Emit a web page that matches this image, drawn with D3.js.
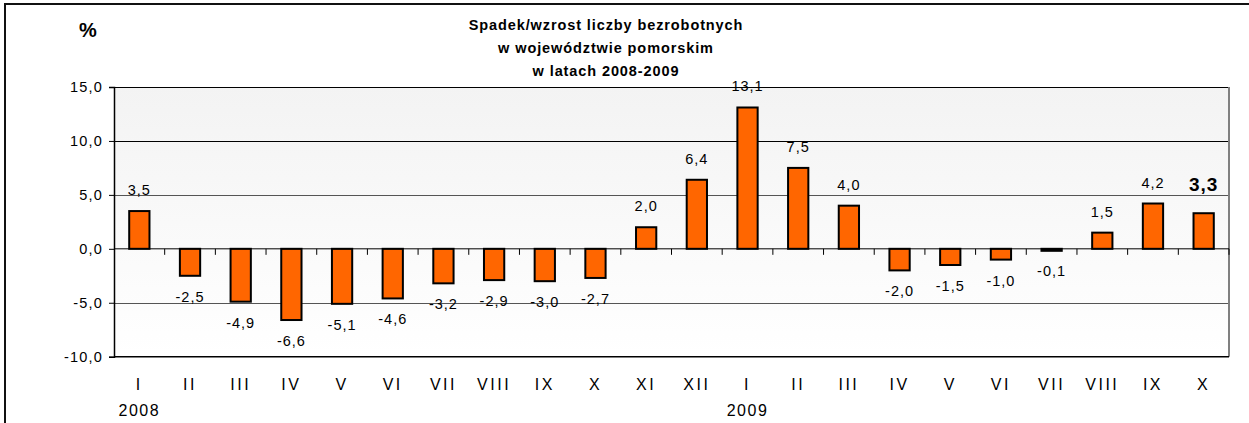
<!DOCTYPE html>
<html>
<head>
<meta charset="utf-8">
<script src="https://cdn.jsdelivr.net/npm/d3@7"></script>
<style>
  body { margin: 0; background: #fff; }
  svg text { font-family: "Liberation Sans", Arial, sans-serif; }
</style>
</head>
<body>
<div id="chart"></div>
<script>
// dane
const months = ['I','II','III','IV','V','VI','VII','VIII','IX','X','XI','XII',
                'I','II','III','IV','V','VI','VII','VIII','IX','X'];
const years = ['2008','','','','','','','','','','','',
               '2009','','','','','','','','',''];
const values = [3.5,-2.5,-4.9,-6.6,-5.1,-4.6,-3.2,-2.9,-3.0,-2.7,2.0,6.4,
                13.1,7.5,4.0,-2.0,-1.5,-1.0,-0.1,1.5,4.2,3.3];
const yTicks = [-10,-5,0,5,10,15];
const titleLines = ['Spadek/wzrost liczby bezrobotnych','w województwie pomorskim','w latach 2008-2009'];

const width = 1249, height = 423;
const margin = {left: 114, right: 20, top: 87, bottom: 67};

const svg = d3.select('#chart').append('svg')
  .attr('width', width)
  .attr('height', height);

// ramka zewnętrzna
svg.append('rect')
  .attr('x', 5).attr('y', 4)
  .attr('width', width + 10).attr('height', height + 10)
  .attr('fill', 'none').attr('stroke', '#111').attr('stroke-width', 2);

const x = d3.scaleBand()
  .domain(d3.range(values.length))
  .range([margin.left, width - margin.right])
  .paddingInner(0).paddingOuter(0);

const y = d3.scaleLinear()
  .domain([-10, 15])
  .range([height - margin.bottom + 0.7, margin.top]);

// tło z gradientem
const grad = svg.append('defs').append('linearGradient')
  .attr('id', 'bg').attr('x1', 0).attr('y1', 0).attr('x2', 0).attr('y2', 1);
grad.append('stop').attr('offset', '0%').attr('stop-color', '#f3f3f3');
grad.append('stop').attr('offset', '100%').attr('stop-color', '#ffffff');

svg.append('rect')
  .attr('x', margin.left).attr('y', y(15))
  .attr('width', x.range()[1] - margin.left)
  .attr('height', y(-10) - y(15))
  .attr('fill', 'url(#bg)');

// linie siatki
svg.append('g').selectAll('line')
  .data(yTicks.filter(d => d !== 0 && d !== -10))
  .enter().append('line')
  .attr('x1', margin.left).attr('x2', x.range()[1])
  .attr('y1', d => Math.round(y(d)) + 0.5).attr('y2', d => Math.round(y(d)) + 0.5)
  .attr('stroke', d => d >= 10 ? '#000' : '#555')
  .attr('stroke-width', 1);

// ramka wykresu
svg.append('line')
  .attr('x1', x.range()[1]).attr('x2', x.range()[1])
  .attr('y1', y(15)).attr('y2', y(-10))
  .attr('stroke', '#808080').attr('stroke-width', 2);
svg.append('line')
  .attr('x1', margin.left).attr('x2', x.range()[1])
  .attr('y1', y(-10)).attr('y2', y(-10))
  .attr('stroke', '#000').attr('stroke-width', 1.5);

// oś Y
const yAxis = svg.append('g')
  .attr('transform', `translate(${margin.left},0)`)
  .call(d3.axisLeft(y).tickValues(yTicks).tickSize(5).tickPadding(6)
    .tickFormat(d => d3.format('.1f')(d).replace('.', ',').replace('−', '-')));
yAxis.select('.domain').attr('stroke', '#000').attr('stroke-width', 1.5);
yAxis.selectAll('.tick line').attr('stroke', '#000');
yAxis.selectAll('text')
  .attr('font-size', 14.5).attr('fill', '#000')
  .style('letter-spacing', '1.2px')
  .attr('font-family', '"Liberation Sans", Arial, sans-serif');

// słupki
svg.append('g').selectAll('rect')
  .data(values)
  .enter().append('rect')
  .attr('x', (d, i) => x(i) + x.bandwidth() * 0.3)
  .attr('width', x.bandwidth() * 0.4)
  .attr('y', d => y(Math.max(0, d)))
  .attr('height', d => Math.max(2, Math.abs(y(d) - y(0))))
  .attr('fill', '#ff6600')
  .attr('stroke', '#000')
  .attr('stroke-width', 2);

// oś X na zerze
const xAxis = svg.append('g')
  .attr('transform', `translate(0,${y(0)})`);
xAxis.append('line')
  .attr('x1', margin.left).attr('x2', x.range()[1])
  .attr('stroke', '#000').attr('stroke-width', 1);
xAxis.selectAll('.tk')
  .data(d3.range(1, values.length + 1))
  .enter().append('line')
  .attr('x1', i => x.range()[0] + i * x.step())
  .attr('x2', i => x.range()[0] + i * x.step())
  .attr('y1', 0).attr('y2', 6)
  .attr('stroke', '#000');

// etykiety wartości
const last = values.length - 1;
svg.append('g').selectAll('text')
  .data(values)
  .enter().append('text')
  .attr('x', (d, i) => x(i) + x.bandwidth() / 2)
  .attr('y', (d, i) => i === last ? y(d) - 22 : (d >= 0 ? y(d) - 16 : y(d) + 26))
  .attr('text-anchor', 'middle')
  .attr('font-size', (d, i) => i === last ? 19 : 14.5)
  .attr('font-weight', (d, i) => i === last ? 'bold' : 'normal')
  .style('letter-spacing', '1px')
  .text(d => d3.format('.1f')(d).replace('.', ',').replace('−', '-'));

// etykiety miesięcy
svg.append('g').selectAll('text')
  .data(months)
  .enter().append('text')
  .attr('x', (d, i) => x(i) + x.bandwidth() / 2)
  .attr('y', 390)
  .attr('text-anchor', 'middle')
  .attr('font-size', 16)
  .style('letter-spacing', '2.5px')
  .text(d => d);

// lata
svg.append('g').selectAll('text')
  .data(years)
  .enter().append('text')
  .attr('x', (d, i) => x(i) + x.bandwidth() / 2)
  .attr('y', 416)
  .attr('text-anchor', 'middle')
  .attr('font-size', 16)
  .style('letter-spacing', '1.5px')
  .text(d => d);

// tytuł
svg.append('g').selectAll('text')
  .data(titleLines)
  .enter().append('text')
  .attr('x', 606)
  .attr('y', (d, i) => 30 + i * 23)
  .attr('text-anchor', 'middle')
  .attr('font-size', 14.5)
  .attr('font-weight', 'bold')
  .style('letter-spacing', '0.9px')
  .text(d => d);

svg.append('text')
  .attr('x', 88).attr('y', 37)
  .attr('text-anchor', 'middle')
  .attr('font-size', 20)
  .attr('font-weight', 'bold')
  .text('%');
</script>
</body>
</html>
